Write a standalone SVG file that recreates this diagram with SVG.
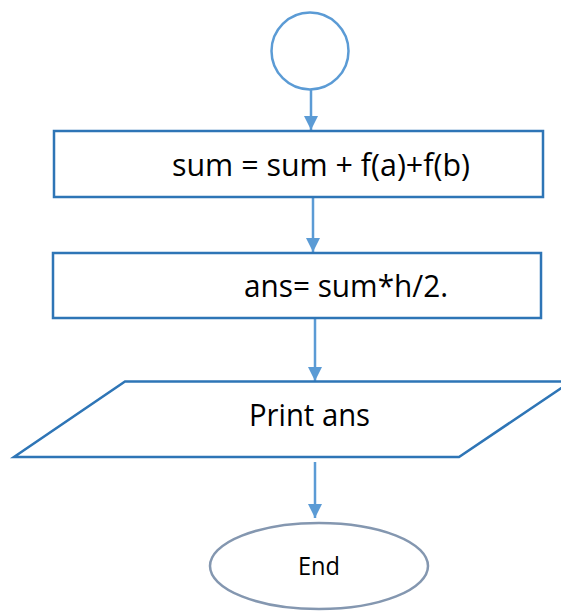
<svg xmlns="http://www.w3.org/2000/svg" width="561" height="611" viewBox="0 0 561 611">
<defs>
<style>
.box{fill:#fff;stroke:#2e75b6;stroke-width:2.5}
.start{fill:#fff;stroke:#5b9bd5;stroke-width:2.5}
.end{fill:#fff;stroke:#8497b0;stroke-width:2.5}
.conn{stroke:#5b9bd5;stroke-width:2.5;fill:none}
.t{font-family:"Open Sans","Liberation Sans",Arial,sans-serif;font-size:31.5px;fill:#000}
.ts{font-family:"Open Sans","Liberation Sans",Arial,sans-serif;font-size:25px;fill:#000}
</style>
<marker id="ah" viewBox="0 0 14 14" refX="14" refY="7" markerWidth="14" markerHeight="14" markerUnits="userSpaceOnUse" orient="auto">
<path d="M0,0 L14,7 L0,14 Z" fill="#5b9bd5"/>
</marker>
</defs>
<rect width="561" height="611" fill="#fff"/>
<g id="connectors">
<line class="conn" x1="311" y1="89" x2="311" y2="130" marker-end="url(#ah)"/>
<line class="conn" x1="313" y1="197" x2="313" y2="252" marker-end="url(#ah)"/>
<line class="conn" x1="315" y1="313" x2="315" y2="381" marker-end="url(#ah)"/>
<line class="conn" x1="315" y1="462" x2="315" y2="518" marker-end="url(#ah)"/>
</g>
<g id="start">
<circle class="start" cx="310" cy="51" r="38.5"/>
</g>
<g id="sum">
<rect class="box" x="54" y="131" width="489" height="66"/>
<text class="t" x="172" y="176" textLength="298" lengthAdjust="spacingAndGlyphs">sum = sum + f(a)+f(b)</text>
</g>
<g id="ans">
<rect class="box" x="53" y="253" width="488" height="65"/>
<text class="t" x="244" y="297" textLength="204" lengthAdjust="spacingAndGlyphs">ans= sum*h/2.</text>
</g>
<g id="print">
<polygon class="box" points="125,381.5 571,381.5 459,457 14,457"/>
<text class="t" x="249" y="426" textLength="121" lengthAdjust="spacingAndGlyphs">Print ans</text>
</g>
<g id="end">
<ellipse class="end" cx="319" cy="566" rx="109" ry="43"/>
<text class="ts" x="298" y="575" textLength="42" lengthAdjust="spacingAndGlyphs">End</text>
</g>
</svg>
